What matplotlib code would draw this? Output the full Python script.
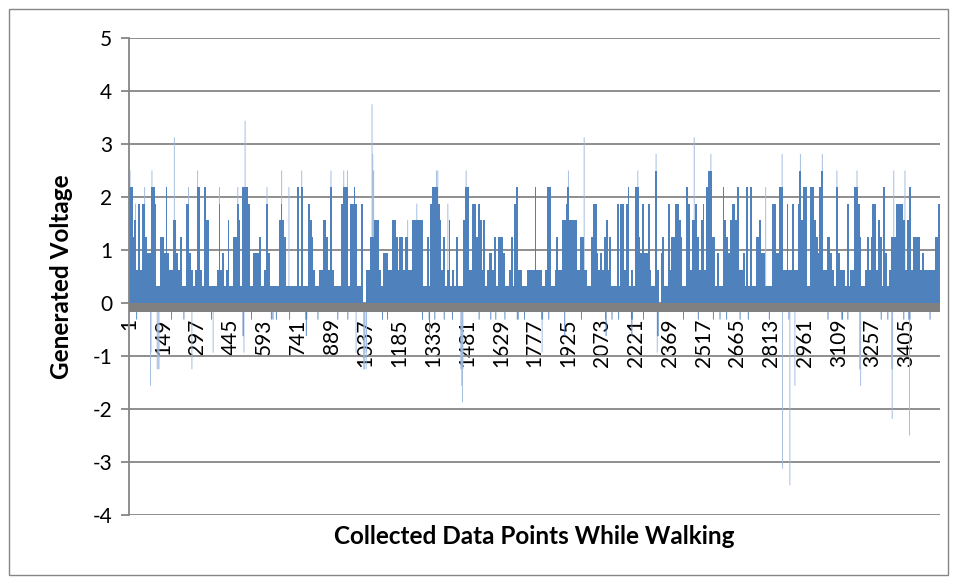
import numpy as np
import matplotlib.pyplot as plt

plt.rcParams['font.family'] = ['Lato', 'DejaVu Sans']
plt.rcParams['axes.unicode_minus'] = False


# ---------------------------------------------------------------------------
# données
# ---------------------------------------------------------------------------

# niveau de tension par bloc de 8 points collectés (pas de 0.3125 V)
niveaux = ("774526266433776114437322553241166321277"
           "217551111262312511446517776113334112631"
           "11115654111111717111654211225542721111677"
           "71667611600224455521333225542442442255555"
           "51141677765241251214111577226646525123324"
           "14443112416722111222272221127711242255675"
           "55522442211466323245241116166267121774363"
           "36211820341162446654117625564256278844131"
           "17543566572231717114453311116633772262262"
           "26857711775437822443217322216122776411242"
           "46625417312444666652572444423222222446")
pas_tension = 0.3125
points_par_bloc = 8

# pointes fines au-dessus des blocs (numéro du point, niveau)
pointes_pt = [5, 29, 69, 101, 199, 261, 301, 397, 477, 509, 605, 669, 701,
              757, 885, 941, 957, 1065, 1068, 1070, 1072, 1221, 1261, 1347,
              1353, 1397, 1477, 1925, 1994, 2229, 2309, 2476, 2549, 2789,
              2861, 2941, 3037, 3101, 3189, 3350, 3399]
pointes_niv = [8, 6, 7, 8, 10, 7, 8, 7, 7, 11, 7, 8, 7,
               8, 8, 8, 8, 12, 9, 8, 8, 5, 6, 8,
               8, 6, 8, 8, 10, 8, 9, 10, 9, 7,
               9, 9, 9, 8, 8, 8, 8]

# valeurs négatives (numéro du point, niveau)
neg_pt = [34, 95, 97, 124, 128, 132, 187, 241, 276,
          362, 369, 500, 502, 504, 537, 624,
          631, 646, 704, 775, 777, 779, 828, 915, 959,
          995, 1029, 1031, 1033, 1039, 1041, 1111, 1133, 1286,
          1315, 1317, 1340, 1381, 1417, 1454, 1456, 1458, 1461, 1463, 1534, 1585,
          1607, 1647, 1701, 1705, 1733, 1808, 1810, 1812, 1839, 1909,
          1982, 2088, 2090, 2116, 2145, 2201, 2203, 2205, 2254,
          2314, 2316, 2318, 2429, 2494, 2560, 2589,
          2618, 2677, 2713, 2805, 2863, 2891, 2895, 2917,
          3062, 3123, 3125, 3149, 3201, 3203, 3205,
          3295, 3324, 3341, 3343, 3345, 3394, 3416, 3419, 3421, 3509]
neg_niv = [-1, -5, -3, -4, -4, -4, -1, -1, -4,
           -1, -3, -2, -2, -3, -1, -1,
           -1, -1, -1, -1, -2, -1, -1, -1, -1,
           -3, -4, -4, -3, -4, -3, -1, -1, -1,
           -1, -2, -1, -1, -1, -4, -4, -5, -6, -4, -1, -1,
           -1, -1, -1, -1, -1, -1, -3, -1, -1, -2,
           -1, -1, -2, -1, -1, -1, -2, -1, -1,
           -3, -2, -2, -1, -1, -1, -1,
           -1, -1, -1, -1, -10, -1, -11, -5,
           -1, -1, -1, -1, -4, -4, -5,
           -1, -1, -4, -7, -4, -1, -1, -8, -1, -1]

etiquettes_x = [1, 149, 297, 445, 593, 741, 889, 1037, 1185, 1333, 1481, 1629,
                1777, 1925, 2073, 2221, 2369, 2517, 2665, 2813, 2961, 3109,
                3257, 3405]
graduations_y = [-4, -3, -2, -1, 0, 1, 2, 3, 4, 5]


# ---------------------------------------------------------------------------
# figure
# ---------------------------------------------------------------------------

bleu = '#4F81BD'
bleu_clair = '#9FBADD'
gris = '#868686'

fig = plt.figure(figsize=(9.58, 5.83), dpi=100)
ax = fig.add_axes([129 / 958, 1 - 515 / 583, 811 / 958, 477 / 583])

tension = np.array([int(c) for c in niveaux]) * pas_tension
n_points = len(niveaux) * points_par_bloc
bords = np.arange(len(niveaux) + 1) * points_par_bloc + 0.5

ax.stairs(tension, bords, baseline=0, fill=True, color=bleu, lw=0, zorder=2)

# pointes isolées : très fines donc plus claires
ax.bar(pointes_pt, np.array(pointes_niv) * pas_tension, width=4,
       color=bleu_clair, lw=0, snap=False, zorder=1.9)
neg = np.array(neg_niv) * pas_tension
ax.bar(neg_pt, neg, width=4, color=np.where(neg < -0.7, bleu_clair, bleu),
       lw=0, snap=False, zorder=2)

# axe horizontal épais (gris)
ax.axhspan(-0.17, 0, color='#808080', lw=0, zorder=3)

ax.set_xlim(0.5, n_points + 0.5)
ax.set_ylim(-4, 5)

ax.set_yticks(graduations_y)
ax.grid(axis='y', color=gris, lw=1.3, zorder=1)
ax.set_axisbelow(True)

ax.spines['top'].set_visible(False)
ax.spines['right'].set_visible(False)
ax.spines['left'].set_color(gris)
ax.spines['left'].set_linewidth(1.3)
ax.spines['bottom'].set_position(('data', 0))
ax.spines['bottom'].set_visible(False)

ax.set_xticks(etiquettes_x)
ax.set_xticklabels([str(e) for e in etiquettes_x], rotation=90)
ax.tick_params(axis='x', length=0, pad=11, labelsize=15)
ax.tick_params(axis='y', length=6, width=1.3, color=gris, pad=6, labelsize=15)

fig.text(62 / 958, 1 - 277 / 583, 'Generated Voltage', rotation=90,
         ha='center', va='center', fontsize=17.5, fontweight='bold')
fig.text(534 / 958, 1 - 537 / 583, 'Collected Data Points While Walking',
         ha='center', va='center', fontsize=17.5, fontweight='bold')

# cadre du graphique
fig.patches.append(plt.Rectangle((8.5 / 958, 8.5 / 583), 939 / 958, 566 / 583,
                                 transform=fig.transFigure, fill=False,
                                 edgecolor=gris, lw=1))

fig.savefig('out.png', dpi=100)
